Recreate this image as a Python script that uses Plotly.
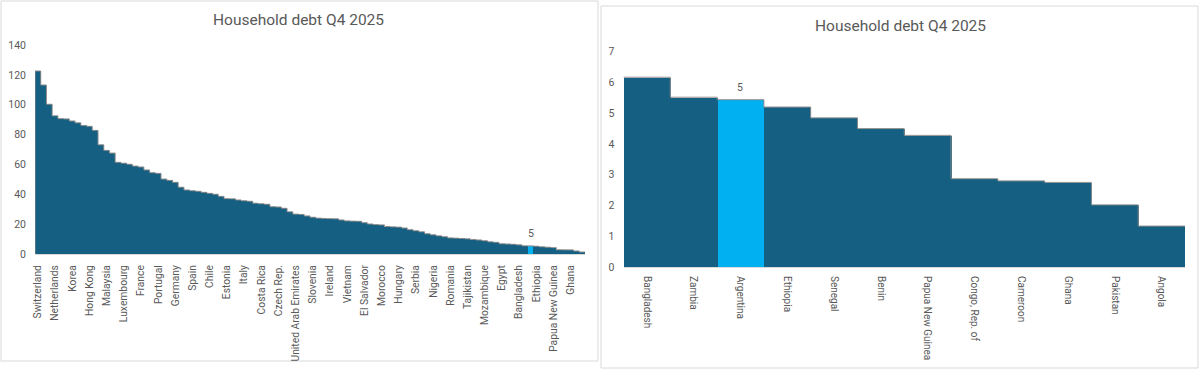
import plotly.graph_objects as go

W, H = 1199, 369

# ---- data ----
title_text = "Household debt Q4 2025"

# left panel: all countries, sorted descending (only every 3rd label is shown)
head_values = [122.6, 113.2, 100.3, 92.6, 90.7, 90.5, 89.1, 87.9, 86.1, 85.5,
               82.8, 73.2, 69.4, 67.6, 61.4, 60.8, 60.1, 58.9, 58.3, 56.3,
               54.5, 54.0, 50.2, 49.3, 48.0, 44.7, 42.9, 42.4, 42.0, 41.3,
               40.6, 40.0, 38.6, 37.1, 37.0, 36.2, 35.7, 35.3, 34.0, 33.7,
               33.3, 31.7, 31.5, 30.6, 28.3, 26.7, 26.5, 25.5, 24.6, 24.0,
               23.8, 23.7, 23.6, 22.8, 22.2, 22.0, 21.9, 21.0, 20.1, 19.7,
               19.5, 18.4, 18.2, 18.0, 17.4, 16.3, 15.6, 14.9, 13.6, 12.9,
               12.2, 11.6, 10.8, 10.6, 10.4, 10.2, 9.7, 9.4, 8.9, 8.2,
               7.8, 6.9, 6.7, 6.5]

left_tick_labels = ["Switzerland", "Netherlands", "Korea", "Hong Kong", "Malaysia",
                    "Luxembourg", "France", "Portugal", "Germany", "Spain", "Chile",
                    "Estonia", "Italy", "Costa Rica", "Czech Rep.",
                    "United Arab Emirates", "Slovenia", "Ireland", "Vietnam",
                    "El Salvador", "Morocco", "Hungary", "Serbia", "Nigeria",
                    "Romania", "Tajikistan", "Mozambique", "Egypt", "Bangladesh",
                    "Ethiopia", "Papua New Guinea", "Ghana"]

# right panel: the lowest 12
tail_countries = ["Bangladesh", "Zambia", "Argentina", "Ethiopia", "Senegal", "Benin",
                  "Papua New Guinea", "Congo, Rep. of", "Cameroon", "Ghana",
                  "Pakistan", "Angola"]
tail_values = [6.17, 5.52, 5.44, 5.20, 4.85, 4.50, 4.28, 2.87, 2.80, 2.75, 2.02, 1.33]

highlight = "Argentina"

left_values = head_values + tail_values

# ---- styles ----
BAR = "#156082"
HI = "#00B0F0"
EDGE = "#8c8c8c"
TXT = "#595959"
FONT = "Roboto"

n_left = len(left_values)
n_right = len(tail_values)
hi_left = len(head_values) + tail_countries.index(highlight)
hi_right = tail_countries.index(highlight)

left_colors = [HI if i == hi_left else BAR for i in range(n_left)]
right_colors = [HI if i == hi_right else BAR for i in range(n_right)]

fig = go.Figure()

fig.add_trace(go.Bar(x=list(range(n_left)), y=left_values, width=1,
                     marker=dict(color=left_colors, line=dict(width=0)),
                     xaxis="x", yaxis="y", hoverinfo="y"))
fig.add_trace(go.Scatter(x=[-0.5] + [i - 0.5 for i in range(n_left)] + [n_left - 0.5],
                         y=[0] + left_values + [left_values[-1]],
                         mode="lines", line=dict(color=EDGE, width=1, shape="hv"),
                         xaxis="x", yaxis="y", hoverinfo="skip"))

fig.add_trace(go.Bar(x=list(range(n_right)), y=tail_values, width=1,
                     marker=dict(color=right_colors, line=dict(width=0)),
                     xaxis="x2", yaxis="y2", hovertext=tail_countries))
fig.add_trace(go.Scatter(x=[i - 0.5 for i in range(n_right)] + [n_right - 0.5],
                         y=tail_values + [tail_values[-1]],
                         mode="lines", line=dict(color=EDGE, width=1, shape="hv"),
                         xaxis="x2", yaxis="y2", hoverinfo="skip"))

def px_x(p):
    return p / W

def px_y(p):
    return 1 - p / H

fig.update_layout(
    width=W, height=H, template="none",
    margin=dict(l=0, r=0, t=0, b=0),
    paper_bgcolor="white", plot_bgcolor="white",
    showlegend=False, bargap=0,
    font=dict(family=FONT, color=TXT, size=10),
    xaxis=dict(domain=[px_x(35), px_x(585)], range=[-0.5, n_left - 0.5],
               tickvals=list(range(0, n_left, 3)), ticktext=left_tick_labels,
               tickangle=-90, tickfont=dict(size=10.3, color=TXT),
               showgrid=False, zeroline=False, showline=True, linecolor="#d9d9d9",
               linewidth=1, ticks="", ticklabelstandoff=6, automargin=False,
               anchor="y"),
    yaxis=dict(domain=[px_y(254), px_y(45)], range=[0, 140], dtick=20,
               tickfont=dict(size=10.5, color=TXT), showgrid=False, zeroline=False,
               showline=False, ticks="", ticklabelstandoff=8, automargin=False,
               anchor="x"),
    xaxis2=dict(domain=[px_x(623.5), px_x(1185)], range=[-0.5, n_right - 0.5],
                tickvals=list(range(n_right)), ticktext=tail_countries,
                tickangle=90, tickfont=dict(size=10, color=TXT),
                showgrid=False, zeroline=False, showline=True, linecolor="#d9d9d9",
                linewidth=1, ticks="", ticklabelstandoff=6, automargin=False,
                anchor="y2"),
    yaxis2=dict(domain=[px_y(267), px_y(51.7)], range=[0, 7], dtick=1,
                tickfont=dict(size=10.5, color=TXT), showgrid=False, zeroline=False,
                showline=False, ticks="", ticklabelstandoff=8, automargin=False,
                anchor="x2"),
)

fig.add_annotation(x=px_x(298), y=px_y(20), xref="paper", yref="paper",
                   xanchor="center", yanchor="middle",
                   text=title_text, showarrow=False,
                   font=dict(size=15.5, color=TXT, family=FONT))
fig.add_annotation(x=px_x(900), y=px_y(26), xref="paper", yref="paper",
                   xanchor="center", yanchor="middle",
                   text=title_text, showarrow=False,
                   font=dict(size=15.5, color=TXT, family=FONT))

fig.add_annotation(x=hi_left, y=left_values[hi_left], xref="x", yref="y",
                   text=f"{left_values[hi_left]:.0f}", showarrow=False, yshift=12,
                   font=dict(size=10.5, color=TXT))
fig.add_annotation(x=hi_right, y=tail_values[hi_right], xref="x2", yref="y2",
                   text=f"{tail_values[hi_right]:.0f}", showarrow=False, yshift=12,
                   font=dict(size=10.5, color=TXT))

fig.add_shape(type="rect", xref="paper", yref="paper",
              x0=px_x(1), x1=px_x(598), y0=px_y(361), y1=px_y(1),
              line=dict(color="#d9d9d9", width=1), fillcolor="rgba(0,0,0,0)", layer="below")
fig.add_shape(type="rect", xref="paper", yref="paper",
              x0=px_x(601), x1=px_x(1198), y0=px_y(368), y1=px_y(6),
              line=dict(color="#d9d9d9", width=1), fillcolor="rgba(0,0,0,0)", layer="below")

fig.write_html("out.html", config={"displayModeBar": False},
               post_script="document.body.style.margin='0';")
